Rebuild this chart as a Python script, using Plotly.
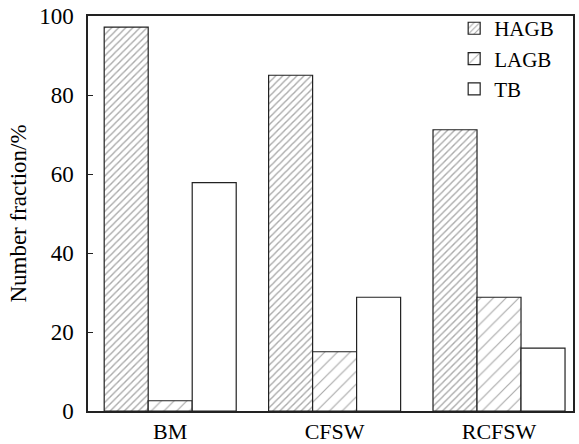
import plotly.graph_objects as go

categories = ["BM", "CFSW", "RCFSW"]
hagb = [97.2, 85.0, 71.2]
lagb = [2.6, 15.0, 28.8]
tb = [57.8, 28.8, 15.9]
series_names = ["HAGB", "LAGB", "TB"]
y_ticks = [0, 20, 40, 60, 80, 100]

FONT = "Liberation Serif"

fig = go.Figure()
fig.add_trace(go.Bar(
    x=categories, y=hagb, name=series_names[0],
    marker=dict(color="white", line=dict(color="#222", width=1.2),
                pattern=dict(shape="/", size=5, solidity=0.28, fgcolor="#555", bgcolor="white")),
))
fig.add_trace(go.Bar(
    x=categories, y=lagb, name=series_names[1],
    marker=dict(color="white", line=dict(color="#222", width=1.2),
                pattern=dict(shape="/", size=9, solidity=0.13, fgcolor="#555", bgcolor="white")),
))
fig.add_trace(go.Bar(
    x=categories, y=tb, name=series_names[2],
    marker=dict(color="white", line=dict(color="#222", width=1.2)),
))

fig.update_layout(
    width=579, height=444,
    margin=dict(l=88, r=6, t=16, b=33),
    paper_bgcolor="white", plot_bgcolor="white",
    font=dict(family=FONT, size=23, color="black"),
    barmode="group", bargap=0.197, bargroupgap=0,
    showlegend=True,
    legend=dict(x=0.755, y=1.02, xanchor="left", yanchor="top",
                bgcolor="rgba(0,0,0,0)", font=dict(family=FONT, size=21),
                itemwidth=30, tracegroupgap=0),
)
fig.update_xaxes(
    range=[-0.5, 2.45], showline=True, linecolor="#222", linewidth=1.5,
    mirror=True, ticks="", showgrid=False, ticklabelstandoff=0, automargin=False,
    tickfont=dict(family=FONT, size=22),
)
fig.update_yaxes(
    range=[0, 100], tickvals=y_ticks, showline=True, linecolor="#222", linewidth=1.5,
    mirror=True, ticks="inside", ticklen=5, tickcolor="#222", showgrid=False, zeroline=False,
    tickfont=dict(family=FONT, size=23), ticklabelstandoff=8, automargin=False,
    title=dict(text="Number fraction/%", font=dict(family=FONT, size=23), standoff=6),
)
fig.write_html("out.html")
